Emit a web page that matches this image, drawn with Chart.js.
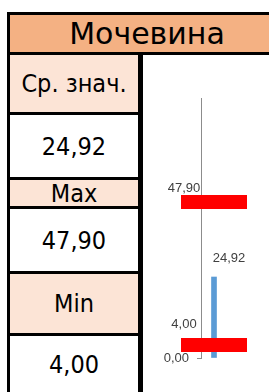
<!DOCTYPE html>
<html>
<head>
<meta charset="utf-8">
<script src="https://cdn.jsdelivr.net/npm/chart.js@4"></script>
<style>
  html, body { margin: 0; padding: 0; background: #fff; }
  body { width: 269px; height: 392px; position: relative; overflow: hidden; }
  .box { position: absolute; box-sizing: border-box; display: flex; align-items: center; justify-content: center;
         font-family: "DejaVu Sans Condensed", "DejaVu Sans", sans-serif; color: #000; }
  #title { left: 7px; top: 12px; width: 280px; height: 43px; border: 3px solid #000; background: #F4B183;
           font-family: "DejaVu Sans", sans-serif; font-size: 30px; }
  #left { position: absolute; left: 7px; top: 52px; width: 136px; height: 360px; border-left: 3px solid #000; border-right: 5px solid #000; box-sizing: border-box; }
  .cell { position: absolute; left: 0; right: 0; display: flex; align-items: center; justify-content: center;
          font-family: "DejaVu Sans Condensed", "DejaVu Sans", sans-serif; font-size: 25px; color: #000; border-top: 3px solid #000; box-sizing: border-box; }
  .head { background: #FCE4D6; }
  #chartBox { position: absolute; left: 143px; top: 55px; width: 126px; height: 337px; }
</style>
</head>
<body>
<div id="title" class="box"></div>
<div id="left"></div>
<div id="chartBox"><canvas id="chart" width="126" height="337"></canvas></div>
<script>
// data
const categories = ['Мочевина'];
const avgValues = [24.92];
const maxValues = [47.90];
const minValues = [4.00];
const rowLabels = ['Ср. знач.', 'Max', 'Min'];
const yTickValues = [0];
const yMin = 0;
const yMax = 80;

function fmt(v) {
  return v.toFixed(2).replace('.', ',');
}

// left table
document.getElementById('title').textContent = categories[0];
const rows = [
  [rowLabels[0], 0, 60, true],
  [fmt(avgValues[0]), 60, 65, false],
  [rowLabels[1], 125, 29, true],
  [fmt(maxValues[0]), 154, 65, false],
  [rowLabels[2], 219, 62, true],
  [fmt(minValues[0]), 281, 59, false]
];
const left = document.getElementById('left');
rows.forEach(function (r, i) {
  const d = document.createElement('div');
  d.className = 'cell' + (r[3] ? ' head' : '');
  d.textContent = r[0];
  d.style.top = r[1] + 'px';
  d.style.height = r[2] + 'px';
  left.appendChild(d);
});

// red dash marker for min / max
function makeDash() {
  const c = document.createElement('canvas');
  c.width = 66;
  c.height = 14;
  const g = c.getContext('2d');
  g.fillStyle = '#FF0000';
  g.fillRect(0, 0, 66, 14);
  return c;
}
const dash = makeDash();

// label offsets per dataset
const labelOffsets = {
  max: [-30, -14],
  min: [-30, -21],
  avg: [15, -19]
};

const valueLabels = {
  id: 'valueLabels',
  afterDatasetsDraw(chart) {
    const ctx = chart.ctx;
    ctx.save();
    ctx.font = '13px "Liberation Sans", Arial, sans-serif';
    ctx.fillStyle = '#404040';
    ctx.textAlign = 'center';
    ctx.textBaseline = 'middle';
    chart.data.datasets.forEach(function (ds, i) {
      const meta = chart.getDatasetMeta(i);
      const off = labelOffsets[ds.key];
      meta.data.forEach(function (el, j) {
        ctx.fillText(fmt(ds.data[j]), el.x + off[0], el.y + off[1]);
      });
    });
    ctx.restore();
  }
};

new Chart(document.getElementById('chart').getContext('2d'), {
  type: 'bar',
  data: {
    labels: categories,
    datasets: [
      {
        key: 'max',
        type: 'line',
        data: maxValues,
        showLine: false,
        pointStyle: dash,
        pointRadius: 7,
        clip: false,
        order: 0
      },
      {
        key: 'min',
        type: 'line',
        data: minValues,
        showLine: false,
        pointStyle: dash,
        pointRadius: 7,
        clip: false,
        order: 0
      },
      {
        key: 'avg',
        data: avgValues,
        backgroundColor: '#5B9BD5',
        barThickness: 5,
        order: 1
      }
    ]
  },
  options: {
    responsive: false,
    animation: false,
    layout: {
      padding: { top: 43, right: 42, bottom: 34, left: 0 }
    },
    scales: {
      x: {
        display: false,
        offset: true
      },
      y: {
        min: yMin,
        max: yMax,
        afterBuildTicks: function (scale) {
          scale.ticks = yTickValues.map(function (v) { return { value: v }; });
        },
        afterFit: function (scale) {
          scale.width = 58;
        },
        ticks: {
          callback: function (v) { return fmt(v); },
          font: { size: 13, family: '"Liberation Sans", Arial, sans-serif' },
          color: '#404040',
          padding: 8
        },
        grid: {
          drawOnChartArea: false,
          tickLength: 4,
          color: '#8c8c8c'
        },
        border: {
          color: '#8c8c8c',
          width: 1
        }
      }
    },
    plugins: {
      legend: { display: false },
      tooltip: { enabled: false }
    }
  },
  plugins: [valueLabels]
});
</script>
</body>
</html>
